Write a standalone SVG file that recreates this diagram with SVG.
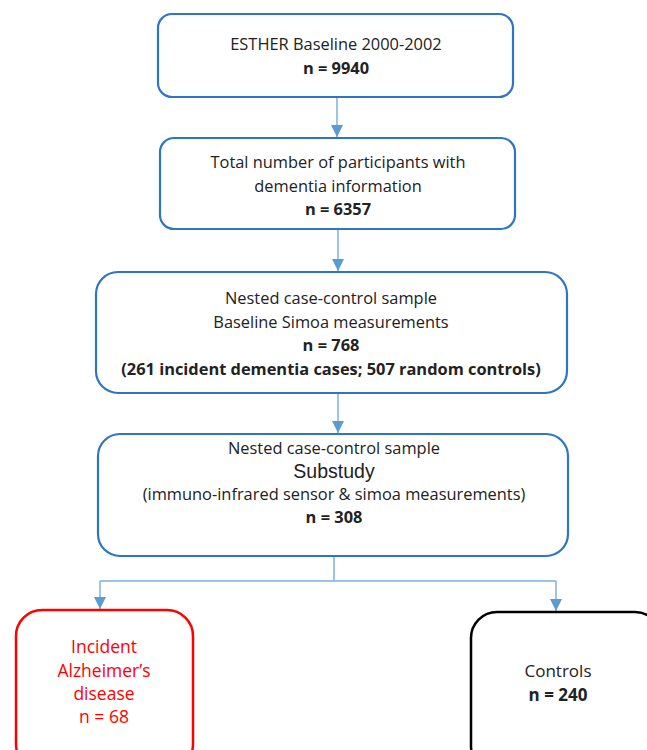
<svg xmlns="http://www.w3.org/2000/svg" width="647" height="750" viewBox="0 0 647 750">
<defs>
<marker id="ah" markerWidth="12" markerHeight="12" refX="12" refY="6" orient="auto" markerUnits="userSpaceOnUse" viewBox="0 0 12 12">
<path d="M0,0 L12,6 L0,12 Z" fill="#5B9BD5"/>
</marker>
<style>
.box{fill:#fff;stroke:#2E75C6;stroke-width:2.2}
.t{font-family:"Open Sans","Liberation Sans",sans-serif;font-size:16.4px;fill:#222;text-anchor:middle}
.b{font-weight:bold}
.c{stroke:#7FB0DE;stroke-width:1.5;fill:none}
</style>
</defs>
<rect width="647" height="750" fill="#fff"/>
<g id="connectors">
<path class="c" d="M337,97 V137" marker-end="url(#ah)"/>
<path class="c" d="M338,229 V271" marker-end="url(#ah)"/>
<path class="c" d="M338,393 V433" marker-end="url(#ah)"/>
<path class="c" d="M334,556 V581 M100,581 H556"/>
<path class="c" d="M100,581 V609" marker-end="url(#ah)"/>
<path class="c" d="M556,581 V611" marker-end="url(#ah)"/>
</g>
<g id="n1">
<rect class="box" x="158" y="14" width="355" height="83" rx="14"/>
<text class="t" x="336" y="50">ESTHER Baseline 2000-2002</text>
<text class="t b" x="336" y="74">n = 9940</text>
</g>
<g id="n2">
<rect class="box" x="160" y="138" width="355" height="91" rx="14"/>
<text class="t" x="338" y="168">Total number of participants with</text>
<text class="t" x="338" y="192">dementia information</text>
<text class="t b" x="338" y="215">n = 6357</text>
</g>
<g id="n3">
<rect class="box" x="96" y="272" width="471" height="121" rx="22"/>
<text class="t" x="331" y="304">Nested case-control sample</text>
<text class="t" x="331" y="328">Baseline Simoa measurements</text>
<text class="t b" x="331" y="351">n = 768</text>
<text class="t b" x="331" y="375">(261 incident dementia cases; 507 random controls)</text>
</g>
<g id="n4">
<rect class="box" x="98" y="434" width="470" height="122" rx="22"/>
<text class="t" x="334" y="454">Nested case-control sample</text>
<text class="t" x="334" y="478" style="font-family:'Liberation Sans',Arial,sans-serif;font-size:19.5px">Substudy</text>
<text class="t" x="334" y="500">(immuno-infrared sensor &amp; simoa measurements)</text>
<text class="t b" x="334" y="523">n = 308</text>
</g>
<g id="n5">
<rect x="16" y="610" width="177" height="160" rx="26" fill="#fff" stroke="#FF0000" stroke-width="2.5"/>
<text class="t" x="104" y="653" style="fill:#FF0000;font-size:17.5px">Incident</text>
<text class="t" x="104" y="677" style="fill:#FF0000;font-size:17.5px">Alzheimer’s</text>
<text class="t" x="104" y="700" style="fill:#FF0000;font-size:17.5px">disease</text>
<text class="t" x="104" y="723" style="fill:#FF0000;font-size:17.5px">n = 68</text>
</g>
<g id="n6">
<rect x="471" y="612" width="190" height="160" rx="26" fill="#fff" stroke="#000" stroke-width="2.5"/>
<text class="t" x="558" y="677" style="font-size:17px">Controls</text>
<text class="t b" x="558" y="701" style="font-size:17px">n = 240</text>
</g>
</svg>
